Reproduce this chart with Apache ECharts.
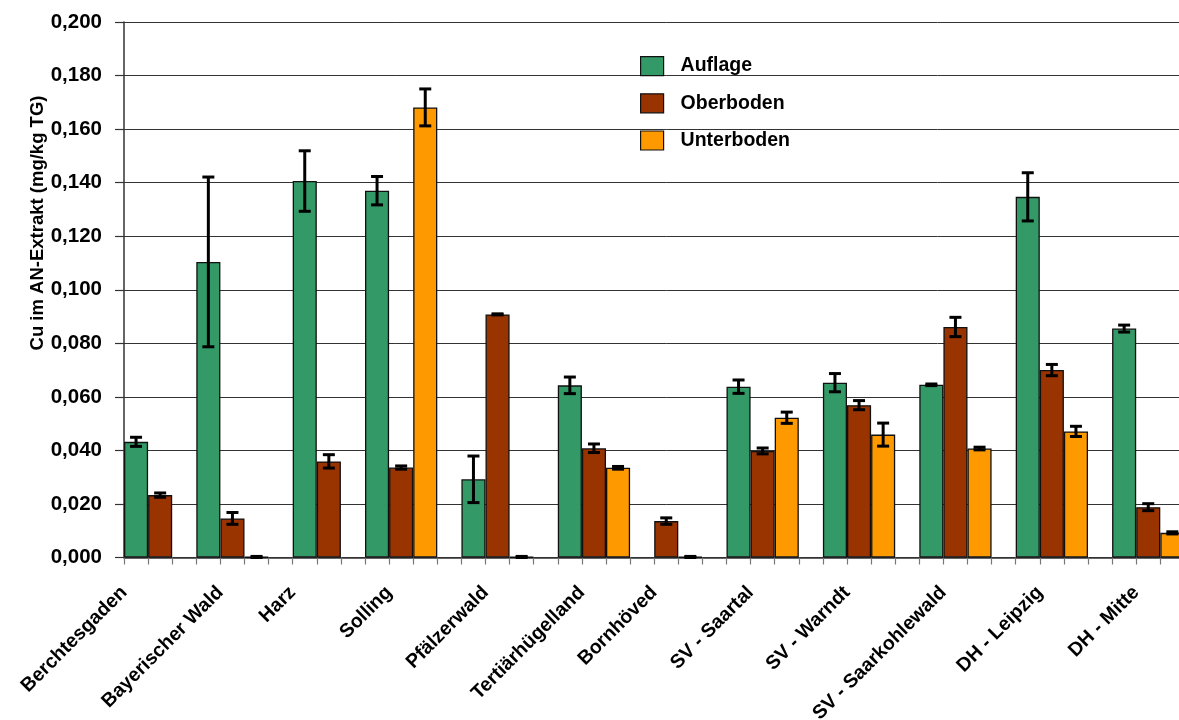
<!DOCTYPE html>
<html>
<head>
<meta charset="utf-8">
<script src="https://cdn.jsdelivr.net/npm/echarts@6/dist/echarts.min.js"></script>
<style>
html,body{margin:0;padding:0;background:#fff;overflow:hidden;}
#chart{width:1240px;height:720px;}
</style>
</head>
<body>
<div id="chart"></div>
<script>
// ---- data ----
const sites = ['Berchtesgaden','Bayerischer Wald','Harz','Solling','Pfälzerwald','Tertiärhügelland','Bornhöved','SV - Saartal','SV - Warndt','SV - Saarkohlewald','DH - Leipzig','DH - Mitte'];
const seriesNames = ['Auflage','Oberboden','Unterboden'];
const auflage    = [0.0432, 0.1104, 0.1406, 0.1370, 0.0292, 0.0643, null,   0.0638, 0.0653, 0.0645, 0.1347, 0.0855];
const oberboden  = [0.0233, 0.0146, 0.0359, 0.0336, 0.0908, 0.0408, 0.0136, 0.0398, 0.0569, 0.0861, 0.0700, 0.0188];
const unterboden = [null,   0.0002, null,   0.1681, 0.0002, 0.0335, 0.0002, 0.0522, 0.0459, 0.0407, 0.0471, 0.0092];
const auflageErr    = [0.0017, 0.0317, 0.0113, 0.0053, 0.0087, 0.0031, null,   0.0025, 0.0034, 0.0003, 0.0090, 0.0013];
const oberbodenErr  = [0.0008, 0.0022, 0.0025, 0.0006, 0.0002, 0.0016, 0.0012, 0.0011, 0.0017, 0.0036, 0.0021, 0.0013];
const unterbodenErr = [null,   0.0002, null,   0.0069, 0.0002, 0.0005, 0.0002, 0.0021, 0.0043, 0.0005, 0.0019, 0.0004];
const yTicks = ['0,000','0,020','0,040','0,060','0,080','0,100','0,120','0,140','0,160','0,180','0,200'];
const yTitle = 'Cu im AN-Extrakt (mg/kg TG)';

// ---- slot layout (category slots on the x axis) ----
const slotCount = 45;
const groupSlot = [0,3,7,10,14,18,21,25,29,33,37,41];
const labelSlot = [0,4,7,11,15,19,22,26,30,34,38,42];

const colors = ['#339966','#993300','#FF9900'];
const values = [auflage, oberboden, unterboden];
const errs = [auflageErr, oberbodenErr, unterbodenErr];

const slotCats = Array.from({length: slotCount}, (_, i) => String(i));
const labelCats = Array.from({length: slotCount + 1}, () => '');
sites.forEach((s, i) => { labelCats[labelSlot[i]] = s; });

const FONT = 'Liberation Sans, Arial, Helvetica, sans-serif';

const barSeries = values.map((vals, s) => {
  const d = Array(slotCount).fill(null);
  vals.forEach((v, i) => { if (v !== null) d[groupSlot[i] + s] = v; });
  return {
    name: seriesNames[s], type: 'bar', xAxisIndex: 0, yAxisIndex: 0,
    data: d, barGap: '-100%', barCategoryGap: '0%',
    itemStyle: {color: colors[s], borderColor: '#111', borderWidth: 1.3},
    emphasis: {disabled: true}, animation: false, z: 2
  };
});

const errData = [];
values.forEach((vals, s) => {
  vals.forEach((v, i) => {
    const e = errs[s][i];
    if (v !== null && e !== null) errData.push([groupSlot[i] + s, v - e, v + e]);
  });
});

const errSeries = {
  type: 'custom', xAxisIndex: 0, yAxisIndex: 0, data: errData, z: 5, animation: false,
  silent: true,
  renderItem: function (params, api) {
    const x = api.value(0);
    const lo = api.coord([x, api.value(1)]);
    const hi = api.coord([x, api.value(2)]);
    const hw = 6;
    const st = {stroke: '#000', lineWidth: 3};
    return {type: 'group', children: [
      {type: 'line', shape: {x1: lo[0], y1: lo[1], x2: hi[0], y2: hi[1]}, style: st},
      {type: 'line', shape: {x1: lo[0]-hw, y1: lo[1], x2: lo[0]+hw, y2: lo[1]}, style: st},
      {type: 'line', shape: {x1: hi[0]-hw, y1: hi[1], x2: hi[0]+hw, y2: hi[1]}, style: st}
    ]};
  }
};

const chart = echarts.init(document.getElementById('chart'), null, {renderer: 'canvas'});
chart.setOption({
  backgroundColor: '#fff',
  animation: false,
  grid: {left: 124, top: 22, width: slotCount * 24.1, height: 535.5, containLabel: false, outerBoundsMode: 'none'},
  legend: {
    data: seriesNames, orient: 'vertical', left: 640, top: 56, padding: 0,
    itemWidth: 23, itemHeight: 19, itemGap: 17, icon: 'rect',
    itemStyle: {borderColor: '#111', borderWidth: 1.2},
    textStyle: {fontFamily: FONT, fontWeight: 'bold', fontSize: 19.5, color: '#000', padding: [0,0,0,12]},
    selectedMode: false
  },
  xAxis: [
    {type: 'category', data: slotCats, boundaryGap: true, position: 'bottom',
     axisLine: {show: true, lineStyle: {color: '#333', width: 1.5}},
     axisTick: {show: true, interval: 0, alignWithLabel: false, length: 7, lineStyle: {color: '#777', width: 1.2}},
     axisLabel: {show: false}, splitLine: {show: false}},
    {type: 'category', data: labelCats, boundaryGap: false, position: 'bottom',
     axisLine: {show: false}, axisTick: {show: false}, splitLine: {show: false},
     axisLabel: {show: true, interval: 0, rotate: 45, margin: 32,
       fontFamily: FONT, fontWeight: 'bold', fontSize: 19.5, color: '#000'}}
  ],
  yAxis: {
    type: 'value', min: 0, max: 0.2, interval: 0.02,
    axisLine: {show: true, lineStyle: {color: '#333', width: 1.5}},
    axisTick: {show: true, length: 9, lineStyle: {color: '#333', width: 1.2}},
    axisLabel: {margin: 22, fontFamily: FONT, fontWeight: 'bold', fontSize: 20.5, color: '#000',
      formatter: function (v) { return yTicks[Math.round(v / 0.02)]; }},
    splitLine: {show: true, lineStyle: {color: '#333', width: 1}}
  },
  graphic: [{
    type: 'text', x: 38, y: 223, rotation: Math.PI / 2,
    style: {text: yTitle, fontFamily: FONT, fontWeight: 'bold', fontSize: 18.5, fill: '#000',
      textAlign: 'center', textVerticalAlign: 'middle'}
  }],
  series: [...barSeries, errSeries]
});
</script>
</body>
</html>
